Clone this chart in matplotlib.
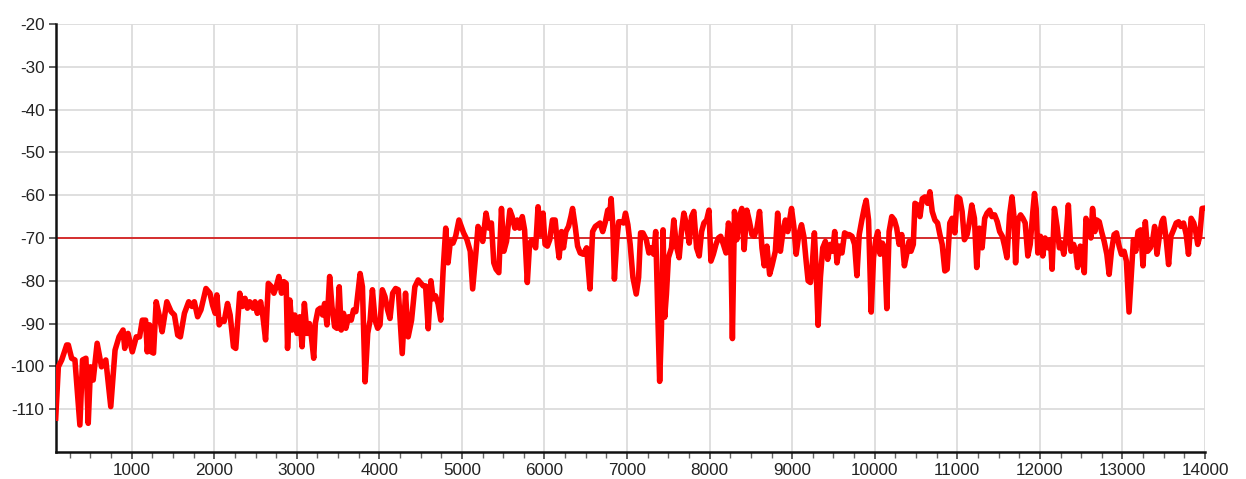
import matplotlib

matplotlib.use("Agg")
import matplotlib.pyplot as plt
from matplotlib.ticker import MultipleLocator

# sample positions and measured level (dB)
x_pos = [
    80, 112, 153, 213, 233, 273, 313, 373, 405, 446, 474, 502, 534, 582, 635, 687,
    747, 799, 847, 896, 916, 956, 1008, 1056, 1096, 1129, 1169, 1189, 1217, 1237, 1265,
    1297, 1337, 1369, 1426, 1478, 1518, 1558, 1590, 1639, 1691, 1731, 1759, 1799, 1839,
    1900, 1948, 1980, 2012, 2032, 2060, 2092, 2120, 2161, 2193, 2233, 2261, 2309, 2341,
    2373, 2402, 2430, 2470, 2494, 2522, 2562, 2590, 2622, 2655, 2695, 2723, 2751, 2783,
    2815, 2843, 2871, 2888, 2916, 2944, 2976, 3004, 3036, 3064, 3092, 3124, 3153, 3177,
    3205, 3225, 3257, 3285, 3313, 3337, 3365, 3398, 3426, 3458, 3486, 3514, 3538, 3566,
    3594, 3627, 3659, 3687, 3715, 3767, 3795, 3827, 3859, 3888, 3916, 3948, 3980, 4008,
    4036, 4068, 4100, 4129, 4161, 4197, 4229, 4277, 4317, 4349, 4390, 4430, 4470,
    4500, 4532, 4560, 4592, 4624, 4652, 4680, 4712, 4744, 4772, 4804, 4832, 4860, 4892,
    4924, 4964,
    5020, 5061, 5101, 5130, 5171, 5195, 5223, 5252, 5292, 5325, 5357, 5386, 5414, 5447,
    5479, 5508, 5540, 5581, 5609, 5641, 5670, 5698, 5731, 5759, 5792, 5820, 5853, 5893,
    5922, 5954, 5983, 6007, 6035, 6064, 6096, 6129, 6157, 6177, 6206, 6230, 6259, 6291,
    6320, 6340, 6372, 6401, 6433, 6470, 6510, 6551, 6583, 6616, 6644, 6673, 6705, 6738,
    6766, 6786, 6807, 6827, 6847, 6876, 6900, 6929, 6957, 6981, 7010, 7038, 7071, 7111,
    7140, 7164, 7192, 7233, 7265, 7294, 7322, 7347, 7375, 7395, 7416, 7436, 7456, 7477,
    7501, 7538, 7566, 7598, 7631, 7659, 7688, 7720, 7753, 7781, 7809, 7842, 7874, 7903,
    7931, 7964, 7992, 8016, 8045, 8077, 8106, 8134, 8167, 8199, 8228, 8256, 8276, 8301,
    8329, 8362, 8390, 8418, 8451, 8483, 8512, 8540, 8573, 8605, 8634, 8662, 8694, 8727,
    8755, 8796, 8824, 8857, 8889, 8918, 8946,
    8992, 9020, 9048, 9080, 9113, 9141, 9169, 9193, 9221, 9241, 9269, 9289, 9314, 9342,
    9370, 9402, 9430, 9462, 9490, 9515, 9543, 9571, 9603, 9635, 9663, 9691, 9724, 9756,
    9784, 9812, 9844, 9876, 9896, 9925, 9957, 9985, 10013, 10037, 10065, 10093, 10118,
    10146, 10174, 10206, 10238, 10266, 10295, 10327, 10359, 10387, 10415, 10439, 10467,
    10487, 10520, 10548, 10576, 10608, 10640, 10668, 10696, 10729, 10761, 10789, 10817,
    10849, 10877, 10909, 10937, 10970, 10998, 11030, 11058, 11086, 11119, 11147, 11175,
    11207, 11235, 11267, 11300, 11332, 11360, 11392, 11420, 11452, 11484, 11513, 11545,
    11573, 11601, 11633, 11662, 11686, 11706, 11734, 11766, 11794, 11822, 11854, 11883,
    11915, 11935, 11955, 11975, 12007, 12035, 12063, 12096, 12128, 12148, 12176, 12208,
    12236, 12264, 12289, 12317, 12345, 12377, 12409, 12437, 12457, 12489, 12510, 12538,
    12558, 12586, 12618, 12638, 12666, 12690, 12719, 12747, 12779, 12811, 12839, 12867,
    12899, 12928, 12960, 12988, 13020, 13048, 13080, 13108, 13133, 13161, 13189, 13221,
    13249, 13277, 13305, 13338, 13370, 13390, 13418, 13450, 13478, 13498, 13530, 13559,
    13587, 13619, 13651, 13680, 13708, 13740, 13772, 13800, 13832, 13864, 13884, 13912,
    13936, 13965, 14000,
]

level_db = [
    -112.1, -100.1, -98.5, -95.0, -95.0, -98.1, -98.5, -113.7, -98.5, -98.1, -113.3,
    -100.1, -103.2, -94.6, -100.1, -98.5, -109.4, -96.2, -93.1, -91.5, -95.8, -92.3,
    -96.6, -93.1, -93.1, -89.2, -89.2, -96.6, -90.3, -96.6, -96.9, -84.9, -88.4, -91.9,
    -84.9, -87.2, -88.0, -92.7, -93.1, -87.6, -84.9, -86.0, -84.9, -88.4, -86.8, -81.8,
    -82.9, -85.7, -87.6, -83.3, -90.3, -89.2, -89.5, -85.3, -88.0, -95.4, -95.8, -82.9,
    -86.0, -84.1, -86.4, -84.9, -86.4, -84.9, -87.6, -84.9, -88.4, -93.8, -80.6, -81.4,
    -82.9, -81.4, -79.0, -82.9, -80.2, -80.6, -95.8, -84.5, -91.5, -88.0, -92.3, -88.4,
    -95.4, -85.3, -92.3, -90.0, -93.1, -98.1, -89.9, -86.8, -86.4, -88.0, -85.3, -90.3,
    -79.0, -86.0, -90.7, -91.1, -81.4, -91.5, -87.6, -91.1, -88.4, -89.2, -86.8, -87.2,
    -78.3, -81.4, -103.6, -92.3, -89.2, -82.1, -89.2, -91.1, -90.3, -82.1, -83.7, -86.8,
    -88.8, -82.9, -81.8, -82.1, -97.0, -82.9, -93.1, -89.2, -81.4, -79.8,
    -80.5, -81.2, -81.2, -91.2, -80.0, -84.2, -83.5, -85.4, -89.2, -77.7, -67.7, -75.8,
    -70.8, -71.2, -69.6, -65.8,
    -68.8, -70.4, -73.1, -81.9, -73.1, -67.3, -68.5, -70.8, -64.2, -67.7, -66.5, -75.8,
    -77.3, -78.1, -63.1, -73.1, -70.8, -63.5, -65.0, -67.7, -65.8, -67.7, -65.0, -68.1,
    -80.4, -71.2, -70.4, -72.3, -62.7, -69.2, -64.2, -71.5, -71.9, -70.4, -65.8, -65.8,
    -71.5, -74.6, -68.5, -72.3, -68.5, -67.3, -65.0, -63.1, -67.3, -71.9, -73.5, -73.8,
    -72.3, -81.9, -68.5, -67.3, -66.9, -66.5, -68.5, -66.2, -63.5, -65.4, -60.8, -66.9,
    -79.6, -70.4, -66.2, -66.2, -66.5, -64.2, -66.9, -71.5, -79.2, -83.1, -79.2, -68.8,
    -68.8, -70.4, -73.5, -72.3, -73.8, -68.5, -89.6, -103.5, -91.5, -68.1, -88.5, -83.1,
    -74.6, -72.3, -65.8, -71.9, -74.6, -68.5, -64.2, -66.9, -71.2, -65.0, -63.8, -72.3,
    -74.2, -68.5, -66.5, -65.8, -63.5, -75.4, -73.8, -71.5, -70.0, -69.6, -71.5, -73.5,
    -66.5, -70.4, -93.5, -63.8, -70.4, -65.0, -63.1, -72.7, -63.5, -66.2, -69.2, -69.6,
    -67.7, -63.8, -72.3, -76.5, -71.9, -78.5, -76.5, -73.1, -64.2, -73.1, -68.5, -65.8,
    -68.5,
    -63.1, -67.3, -73.8, -69.2, -66.9, -69.6, -75.4, -80.0, -80.4, -76.9, -68.8, -76.9,
    -90.4, -79.2, -72.3, -70.8, -75.0, -71.5, -73.1, -68.5, -75.8, -71.9, -73.5, -68.8,
    -69.2, -69.2, -69.6, -71.5, -78.8, -69.2, -65.8, -62.7, -61.2, -65.8, -87.3, -74.6,
    -70.4, -68.5, -73.8, -71.2, -72.3, -86.5, -68.5, -65.0, -65.8, -67.7, -71.5, -69.2,
    -76.5, -73.8, -70.8, -73.1, -71.5, -61.9, -62.3, -65.0, -60.8, -60.4, -61.9, -59.2,
    -63.8, -65.8, -66.5, -69.2, -71.5, -77.7, -77.3, -66.5, -65.4, -68.8, -60.4, -60.8,
    -63.8, -70.4, -69.2, -66.2, -62.3, -65.4, -76.9, -67.7, -72.3, -65.4, -64.2, -63.5,
    -65.0, -64.6, -66.2, -68.5, -69.6, -71.9, -74.6, -64.6, -60.4, -65.0, -75.8, -65.8,
    -64.6, -65.4, -66.5, -74.2, -71.5, -63.8, -59.6, -63.1, -73.5, -69.6, -74.2, -70.0,
    -72.3, -70.4, -77.3, -63.1, -67.3, -72.3, -71.2, -73.8, -70.0, -62.3, -73.1, -71.5,
    -73.5, -76.9, -71.9, -73.1, -78.1, -65.4, -67.3, -70.0, -63.1, -68.5, -65.8, -66.2,
    -68.5, -70.8, -73.8, -78.5, -73.1, -69.2, -68.8, -71.9, -73.8, -73.1, -75.4, -87.3,
    -78.5, -70.4, -73.1, -68.5, -68.1, -76.5, -66.2, -73.1, -72.3, -70.0, -67.3, -73.8,
    -69.2, -66.2, -65.4, -70.4, -76.2, -69.6, -68.1, -66.5, -66.2, -67.3, -66.5, -69.2,
    -73.8, -65.4, -66.5, -68.1, -71.5, -69.6, -63.1, -63.0,
]

threshold_db = -70

fig = plt.figure(figsize=(12.46, 4.79), dpi=100)
ax = fig.add_axes([0.0447, 0.0564, 0.9224, 0.8935])

ax.axhline(threshold_db, color="#d42020", lw=1.3, zorder=2)
ax.plot(x_pos, level_db, color="#ff0000", lw=4.0, solid_joinstyle="round", zorder=3)

ax.set_xlim(80, 14000)
ax.set_ylim(-120, -20)
ax.xaxis.set_minor_locator(MultipleLocator(250))

ax.grid(True, which="major", color="#dcdcdc", lw=1.3, zorder=0)
ax.set_axisbelow(True)

for side in ("top", "right"):
    ax.spines[side].set_visible(False)
for side in ("left", "bottom"):
    ax.spines[side].set_linewidth(1.8)
    ax.spines[side].set_color("#111111")

ax.tick_params(axis="both", which="major", length=5, width=1.2, color="#444444",
               labelsize=12.3, labelcolor="#222222", pad=3)
ax.tick_params(axis="x", which="minor", length=4, width=1.0, color="#666666")

# no label at the -120 corner
yticks = list(range(-110, -19, 10))
ax.set_yticks(yticks)
ax.set_yticklabels([str(t) for t in yticks])
xticks = list(range(1000, 14001, 1000))
ax.set_xticks(xticks)
ax.set_xticklabels([str(t) for t in xticks])

for lab in ax.get_xticklabels() + ax.get_yticklabels():
    lab.set_family(["Liberation Sans", "DejaVu Sans"])

fig.savefig("out.png", dpi=100, facecolor="white")
plt.close(fig)
